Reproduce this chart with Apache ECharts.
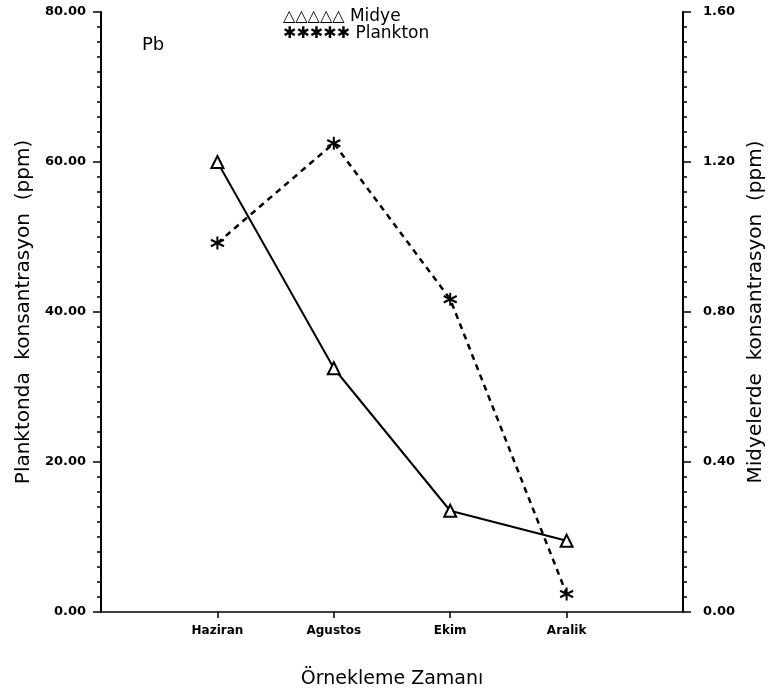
<!DOCTYPE html>
<html>
<head>
<meta charset="utf-8">
<script src="https://cdn.jsdelivr.net/npm/echarts@6/dist/echarts.min.js"></script>
<style>
  html, body {margin: 0; padding: 0; background: #fff;}
  #chart {width: 774px; height: 700px;}
</style>
</head>
<body>
<div id="chart"></div>
<script>
// sampling months, padded with empty slots at both ends of the axis
const months = ["Haziran", "Agustos", "Ekim", "Aralik"];
// mussel concentration (right axis, ppm)
const midye = [1.20, 0.65, 0.27, 0.19];
// plankton concentration (left axis, ppm)
const plankton = [49.2, 62.5, 41.7, 2.4];
const leftTicks = [0, 20, 40, 60, 80];
const rightTicks = [0, 0.4, 0.8, 1.2, 1.6];

const categories = [""].concat(months, [""]);
const pad = (arr) => [null].concat(arr, [null]);

const font = "DejaVu Sans";
const asterisk = "path://M10,0 L10,20 M1.3,5 L18.7,15 M1.3,15 L18.7,5";

const chart = echarts.init(document.getElementById("chart"));

const option = {
  backgroundColor: "#fff",
  animation: false,
  textStyle: {fontFamily: font, color: "#000"},
  grid: {left: 101, right: 86, top: 12, bottom: 88},
  legend: {
    data: ["Midye", "Plankton"],
    orient: "vertical",
    left: 273,
    top: 3,
    icon: "none",
    itemWidth: 0,
    itemGap: 0,
    textStyle: {
      fontFamily: font,
      fontSize: 17,
      color: "#000",
      rich: {m: {fontSize: 16, fontWeight: "bold", color: "#000"}},
    },
    formatter: (name) => (name === "Midye" ? "{m|△△△△△} " : "{m|✱✱✱✱✱} ") + name,
  },
  graphic: [
    {type: "text", left: 142, top: 36, style: {text: "Pb", font: "18px " + font, fill: "#000"}},
  ],
  xAxis: {
    type: "category",
    data: categories,
    boundaryGap: false,
    name: "Örnekleme Zamanı",
    nameLocation: "middle",
    nameGap: 58,
    nameTextStyle: {fontSize: 19, color: "#000"},
    axisLine: {lineStyle: {color: "#000", width: 1.5}},
    axisTick: {
      length: 6,
      lineStyle: {color: "#000", width: 1.5},
      interval: (i, v) => v !== "",
    },
    axisLabel: {
      interval: (i, v) => v !== "",
      fontSize: 12,
      fontWeight: "bold",
      color: "#000",
      margin: 13,
    },
    splitLine: {show: false},
  },
  yAxis: [
    {
      type: "value",
      position: "left",
      min: leftTicks[0],
      max: leftTicks[leftTicks.length - 1],
      interval: leftTicks[1] - leftTicks[0],
      name: "Planktonda  konsantrasyon  (ppm)",
      nameLocation: "middle",
      nameRotate: 90,
      nameGap: 57,
      nameTextStyle: {fontSize: 20, color: "#000"},
      axisLine: {show: true, lineStyle: {color: "#000", width: 2}},
      axisTick: {show: true, length: 8, lineStyle: {color: "#000", width: 1.5}},
      minorTick: {show: true, splitNumber: 10, length: 4, lineStyle: {color: "#000", width: 1.5}},
      axisLabel: {
        formatter: (v) => v.toFixed(2),
        fontSize: 13,
        fontWeight: "bold",
        color: "#000",
        margin: 15,
      },
      splitLine: {show: false},
    },
    {
      type: "value",
      position: "right",
      min: rightTicks[0],
      max: rightTicks[rightTicks.length - 1],
      interval: 0.4,
      name: "Midyelerde  konsantrasyon  (ppm)",
      nameLocation: "middle",
      nameRotate: 90,
      nameGap: 60,
      nameTextStyle: {fontSize: 20, color: "#000"},
      axisLine: {show: true, lineStyle: {color: "#000", width: 2}},
      axisTick: {show: true, length: 8, lineStyle: {color: "#000", width: 1.5}},
      minorTick: {show: true, splitNumber: 10, length: 4, lineStyle: {color: "#000", width: 1.5}},
      axisLabel: {
        formatter: (v) => v.toFixed(2),
        fontSize: 13,
        fontWeight: "bold",
        color: "#000",
        margin: 20,
      },
      splitLine: {show: false},
    },
  ],
  series: [
    {
      name: "Midye",
      type: "line",
      yAxisIndex: 1,
      data: pad(midye),
      symbol: "triangle",
      symbolSize: 12,
      showAllSymbol: true,
      lineStyle: {color: "#000", width: 2},
      itemStyle: {color: "#fff", borderColor: "#000", borderWidth: 2},
      z: 3,
    },
    {
      name: "Plankton",
      type: "line",
      yAxisIndex: 0,
      data: pad(plankton),
      symbol: asterisk,
      symbolSize: 13,
      showAllSymbol: true,
      lineStyle: {color: "#000", width: 2.5, type: [6, 5]},
      itemStyle: {color: "#000", borderColor: "#000", borderWidth: 2},
      z: 2,
    },
  ],
};

chart.setOption(option);
</script>
</body>
</html>
